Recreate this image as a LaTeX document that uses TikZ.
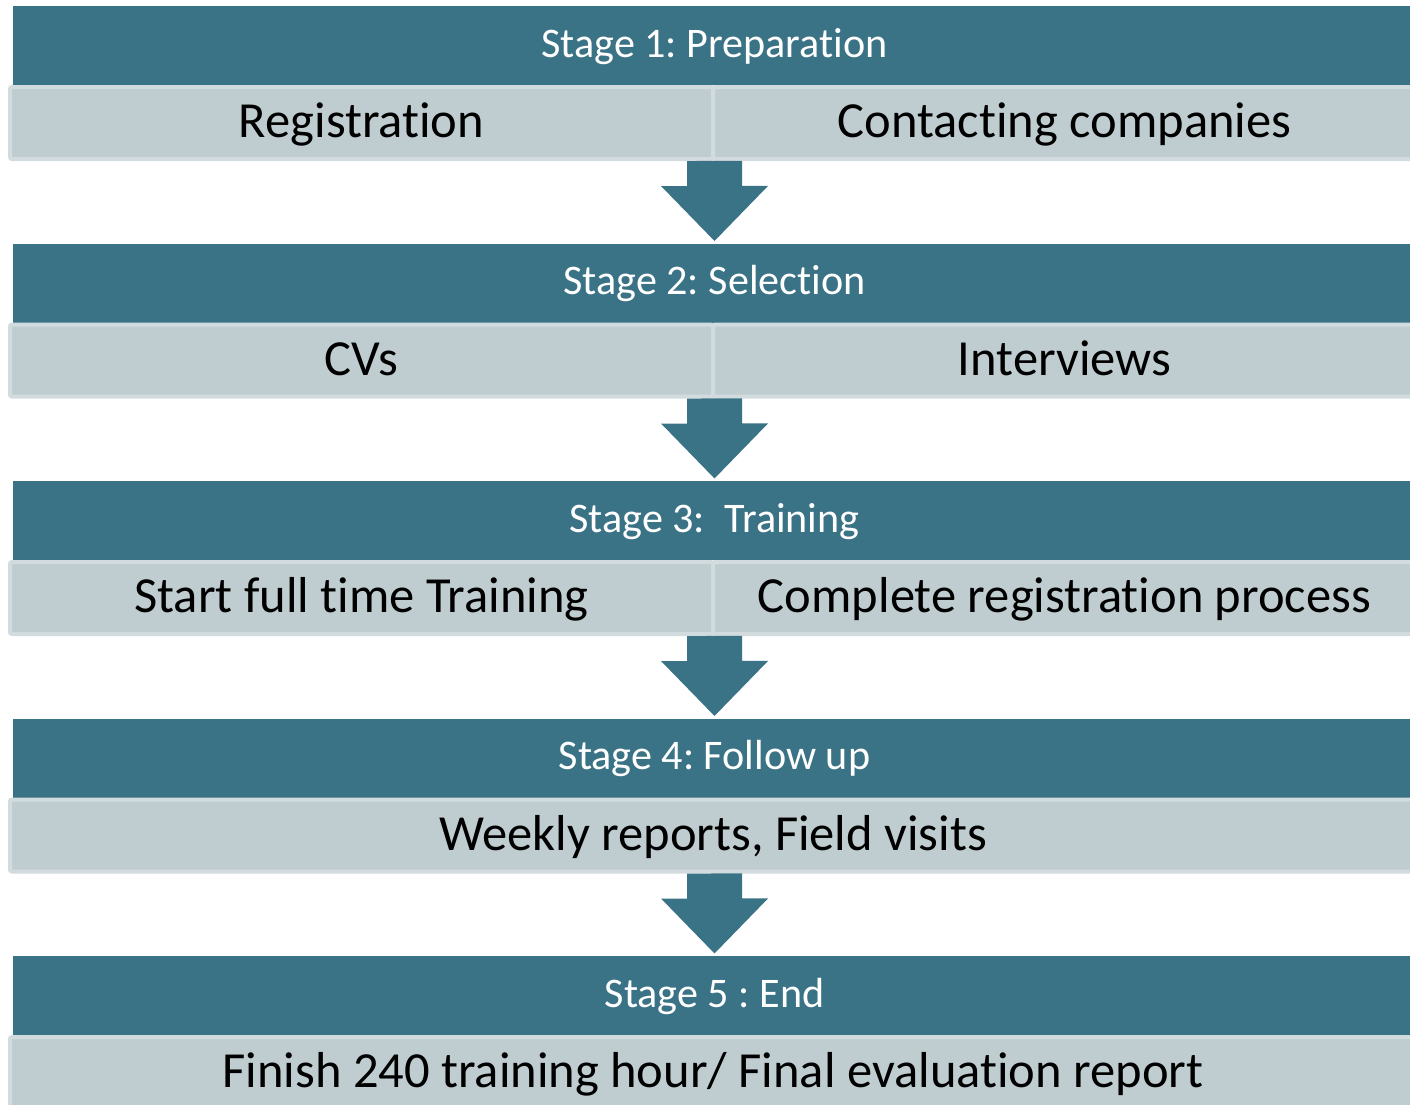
\documentclass[tikz,border=0pt]{standalone}
\usepackage{fontspec}
\setmainfont{Carlito}[Ligatures=NoCommon]
\frenchspacing
\definecolor{stagehead}{HTML}{3B7386}
\definecolor{bandfill}{HTML}{BFCDD1}
\definecolor{bandline}{HTML}{D2DBDE}

\begin{document}
\begin{tikzpicture}[x=0.75pt, y=-0.75pt,
    head/.style={fill=stagehead, text=white, anchor=north west, inner sep=0pt, outer sep=0pt,
      minimum width=1052.25pt, minimum height=59.25pt, text height=23pt, text depth=5.5pt,
      font=\fontsize{31.6}{38}\selectfont},
    cell/.style={fill=bandfill, draw=bandline, line width=3pt, rounded corners=1.5pt, anchor=north west,
      inner sep=0pt, outer sep=0pt, minimum width=527.25pt, minimum height=54pt,
      text height=30pt, text depth=8pt, font=\fontsize{37.9}{45}\selectfont},
    wide/.style={cell, minimum width=1054.5pt},
    flow/.style={fill=stagehead}]

	\useasboundingbox (0,0) rectangle (1410,1104);

	% stage 1
	\node[head] (h1) at (13,6) {Stage 1: Preparation};
	\node[cell] (b1) at (10,87) {Registration};
	\node[cell] (c1) at (713,87) {Contacting companies};

	% stage 2
	\node[head] (h2) at (13,243.5) {Stage 2: Selection};
	\node[cell] (b2) at (10,324.5) {CVs};
	\node[cell] (c2) at (713,324.5) {Interviews};

	% stage 3
	\node[head] (h3) at (13,481) {Stage 3:~ Training};
	\node[cell] (b3) at (10,562) {Start full time Training};
	\node[cell] (c3) at (713,562) {Complete registration process};

	% stage 4
	\node[head] (h4) at (13,718.5) {Stage 4: Follow up};
	\node[wide] (b4) at (10,799.5) {Weekly reports, Field visits};

	% stage 5
	\node[head] (h5) at (13,956) {Stage 5 : End};
	\node[wide] (b5) at (10,1037) {Finish 240 training hour/ Final evaluation report};

	% arrows between stages
	\foreach \a/\b in {1/2, 2/3, 3/4, 4/5}
		\fill[flow] (b\a.south -| h\b.north) ++(-27.5,2) -- ++(0,25) -- ++(-26,0)
			-- ([yshift=1.9pt]h\b.north) -- ++(53.5,-55) -- ++(-26,0) -- ++(0,-25) -- cycle;

\end{tikzpicture}
\end{document}
